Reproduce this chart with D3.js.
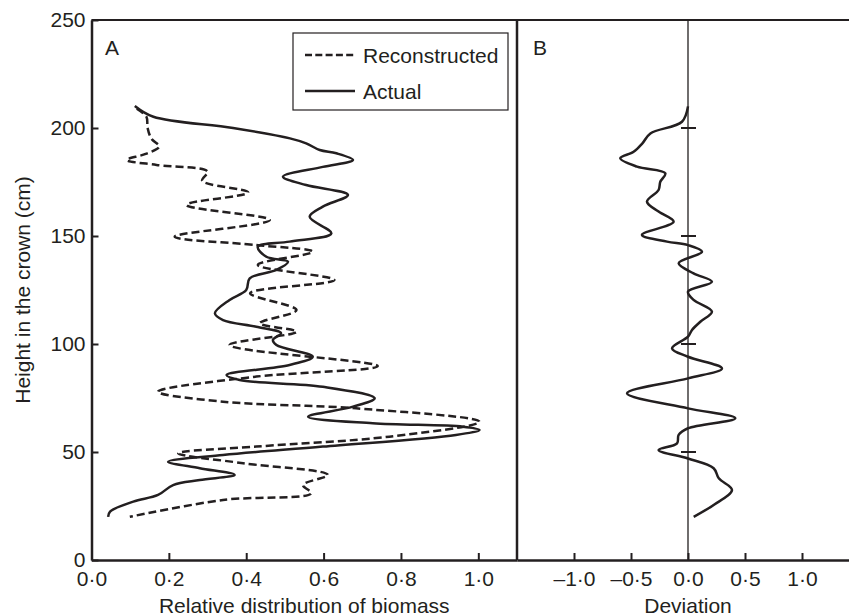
<!DOCTYPE html>
<html>
<head>
<meta charset="utf-8">
<script src="https://cdn.jsdelivr.net/npm/d3@7"></script>
<style>
  body { margin: 0; background: #fff; }
  svg { font-family: "Liberation Sans", Arial, sans-serif; }
</style>
</head>
<body>
<script>
// ---- data ----
var heightTicks = [0, 50, 100, 150, 200, 250];
var biomassTicks = [0, 0.2, 0.4, 0.6, 0.8, 1.0];
var deviationTicks = [-1, -0.5, 0, 0.5, 1];
var markerHeights = [50, 100, 150, 200];

var seriesNames = ["Reconstructed", "Actual"];

var actualHeight = [210.2, 205.2, 200, 195.2, 192.9, 189.8, 188.3, 185.2, 182, 177.5, 173.6, 169, 163.6, 158.9,
  151.2, 147.4, 145, 140.4, 138.1, 134.3, 130.4, 125, 120.4, 114.2, 111.1, 108, 105, 101.9, 99.5, 94.1, 90.3,
  85.6, 83.3, 80.2, 74.9, 71, 66.3, 63.3, 61.7, 60.2, 57.9, 52.5, 48.6, 45.5, 42.5, 39.4, 37, 34.7, 30.1, 27,
  22.4, 20];
var actualValue = [0.112, 0.16, 0.366, 0.513, 0.555, 0.59, 0.633, 0.676, 0.598, 0.495, 0.555, 0.663, 0.598, 0.564,
  0.62, 0.512, 0.43, 0.452, 0.508, 0.478, 0.409, 0.40, 0.357, 0.319, 0.34, 0.426, 0.49, 0.469, 0.478, 0.572, 0.512,
  0.349, 0.383, 0.598, 0.732, 0.676, 0.56, 0.727, 0.96, 1.003, 0.942, 0.598, 0.34, 0.198, 0.28, 0.37, 0.28, 0.211,
  0.172, 0.108, 0.048, 0.043];

var reconHeight = [209, 205.2, 200, 195, 191.4, 188, 185.2, 182.9, 179.8, 175.6, 170.2, 164.4, 157.4, 149.7,
  145.8, 142.7, 136.6, 129.6, 123.5, 115.7, 109.6, 105.7, 99.5, 89.8, 84.9, 77.9, 73.3, 70.2, 64, 57.1, 52.5,
  49.4, 44.8, 39.4, 34.7, 30.9, 27.8, 20];
var reconValue = [0.117, 0.142, 0.145, 0.155, 0.175, 0.14, 0.091, 0.168, 0.3, 0.286, 0.405, 0.246, 0.461, 0.215,
  0.426, 0.572, 0.43, 0.628, 0.41, 0.53, 0.435, 0.53, 0.357, 0.74, 0.426, 0.172, 0.34, 0.684, 1.003, 0.77, 0.426,
  0.224, 0.392, 0.611, 0.547, 0.568, 0.34, 0.099];

var devHeight = [210, 202.9, 197.5, 192.9, 189, 186, 182.1, 179, 175.1, 171.3, 165.9, 161.3, 156.6, 150.5, 147.4,
  145.8, 142.7, 137.4, 132.7, 128.8, 124.2, 120.4, 115, 110.3, 106.5, 103.4, 98, 94.1, 88.7, 84.1, 77.2, 70.2,
  65.6, 61, 57.9, 54, 50.9, 47, 42.5, 37.8, 32.4, 25.5, 20];
var devValue = [0, -0.053, -0.33, -0.40, -0.477, -0.594, -0.447, -0.199, -0.243, -0.258, -0.36, -0.258, -0.126,
  -0.404, -0.184, 0, 0.123, -0.082, 0.049, 0.21, 0, 0.049, 0.21, 0.108, 0.035, 0, -0.14, 0, 0.298, 0, -0.535, 0,
  0.415, 0, -0.082, -0.096, -0.258, 0, 0.225, 0.27, 0.386, 0.225, 0.05];

// ---- layout ----
var W = 849, H = 616;
var plotTop = 20, plotBottom = 560, plotLeft = 91.5, split = 517;
var ink = "#231f20";
var fontSize = 21;

var locale = d3.formatLocale({decimal: "·", thousands: ",", grouping: [3], currency: ["", ""], minus: "–"});
var fmt = locale.format(".1f");

var y = d3.scaleLinear().domain([0, 250]).range([plotBottom, plotTop]);
var xA = d3.scaleLinear().domain([0, 1.1]).range([plotLeft, split]);
var xB = d3.scaleLinear().domain([-1.5, 1.5]).range([split, split + 342]);

var svg = d3.select("body").append("svg")
  .attr("width", W)
  .attr("height", H);

function styleAxis(g) {
  g.select(".domain").attr("stroke", ink).attr("stroke-width", 2.5);
  g.selectAll(".tick line").attr("stroke", ink).attr("stroke-width", 2);
  g.selectAll(".tick text").attr("fill", ink).attr("font-size", fontSize);
  g.attr("font-family", null);
}

// top border + divider
svg.append("line")
  .attr("x1", plotLeft).attr("x2", W).attr("y1", plotTop).attr("y2", plotTop)
  .attr("stroke", ink).attr("stroke-width", 2.2);
svg.append("line")
  .attr("x1", split).attr("x2", split).attr("y1", plotTop).attr("y2", plotBottom)
  .attr("stroke", ink).attr("stroke-width", 2.5);

// zero line of panel B
svg.append("line")
  .attr("x1", xB(0)).attr("x2", xB(0)).attr("y1", plotTop).attr("y2", plotBottom)
  .attr("stroke", ink).attr("stroke-width", 1.3);

svg.append("g")
  .selectAll("line")
  .data(markerHeights)
  .join("line")
  .attr("x1", xB(0) - 7).attr("x2", xB(0) + 8)
  .attr("y1", function(d) { return y(d); }).attr("y2", function(d) { return y(d); })
  .attr("stroke", ink).attr("stroke-width", 2);

// axes
svg.append("g")
  .attr("transform", "translate(" + plotLeft + ",0)")
  .call(d3.axisLeft(y).tickValues(heightTicks).tickFormat(d3.format("d"))
    .tickSizeInner(-7).tickSizeOuter(0).tickPadding(6))
  .call(styleAxis);

svg.append("g")
  .attr("transform", "translate(0," + plotBottom + ")")
  .call(d3.axisBottom(xA).tickValues(biomassTicks).tickFormat(fmt)
    .tickSizeInner(-7).tickSizeOuter(0).tickPadding(11))
  .call(styleAxis);

svg.append("g")
  .attr("transform", "translate(0," + plotBottom + ")")
  .call(d3.axisBottom(xB).tickValues(deviationTicks).tickFormat(fmt)
    .tickSizeInner(-7).tickSizeOuter(0).tickPadding(11))
  .call(styleAxis);

// axis titles
svg.append("text")
  .attr("x", (plotLeft + split) / 2).attr("y", 613)
  .attr("text-anchor", "middle").attr("font-size", fontSize).attr("fill", ink)
  .text("Relative distribution of biomass");

svg.append("text")
  .attr("x", xB(0)).attr("y", 613)
  .attr("text-anchor", "middle").attr("font-size", fontSize).attr("fill", ink)
  .text("Deviation");

svg.append("text")
  .attr("transform", "translate(30," + (plotTop + plotBottom) / 2 + ") rotate(-90)")
  .attr("text-anchor", "middle").attr("font-size", fontSize).attr("fill", ink)
  .text("Height in the crown (cm)");

// panel letters
svg.append("text").attr("x", 105).attr("y", 55)
  .attr("font-size", fontSize).attr("fill", ink).text("A");
svg.append("text").attr("x", 533).attr("y", 55)
  .attr("font-size", fontSize).attr("fill", ink).text("B");

// curves
var lineA = d3.line()
  .x(function(d) { return xA(d[1]); })
  .y(function(d) { return y(d[0]); })
  .curve(d3.curveCatmullRom.alpha(0.5));

var lineB = d3.line()
  .x(function(d) { return xB(d[1]); })
  .y(function(d) { return y(d[0]); })
  .curve(d3.curveCatmullRom.alpha(0.5));

svg.append("path")
  .datum(d3.zip(reconHeight, reconValue))
  .attr("d", lineA)
  .attr("fill", "none").attr("stroke", ink).attr("stroke-width", 2.5)
  .attr("stroke-dasharray", "8,4");

svg.append("path")
  .datum(d3.zip(actualHeight, actualValue))
  .attr("d", lineA)
  .attr("fill", "none").attr("stroke", ink).attr("stroke-width", 2.5);

svg.append("path")
  .datum(d3.zip(devHeight, devValue))
  .attr("d", lineB)
  .attr("fill", "none").attr("stroke", ink).attr("stroke-width", 2.5);

// legend
var legend = svg.append("g").attr("transform", "translate(293,33)");
legend.append("rect")
  .attr("x", 0).attr("y", 0).attr("width", 215).attr("height", 77)
  .attr("fill", "#fff").attr("stroke", ink).attr("stroke-width", 1.2);

var item = legend.selectAll("g.item")
  .data(seriesNames)
  .join("g")
  .attr("class", "item")
  .attr("transform", function(d, i) { return "translate(0," + (22 + i * 36) + ")"; });

item.append("line")
  .attr("x1", 12).attr("x2", 62)
  .attr("stroke", ink).attr("stroke-width", 2.5)
  .attr("stroke-dasharray", function(d, i) { return i === 0 ? "7,3.3" : null; });

item.append("text")
  .attr("x", 70).attr("y", 8)
  .attr("font-size", fontSize).attr("fill", ink)
  .text(function(d) { return d; });
</script>
</body>
</html>
